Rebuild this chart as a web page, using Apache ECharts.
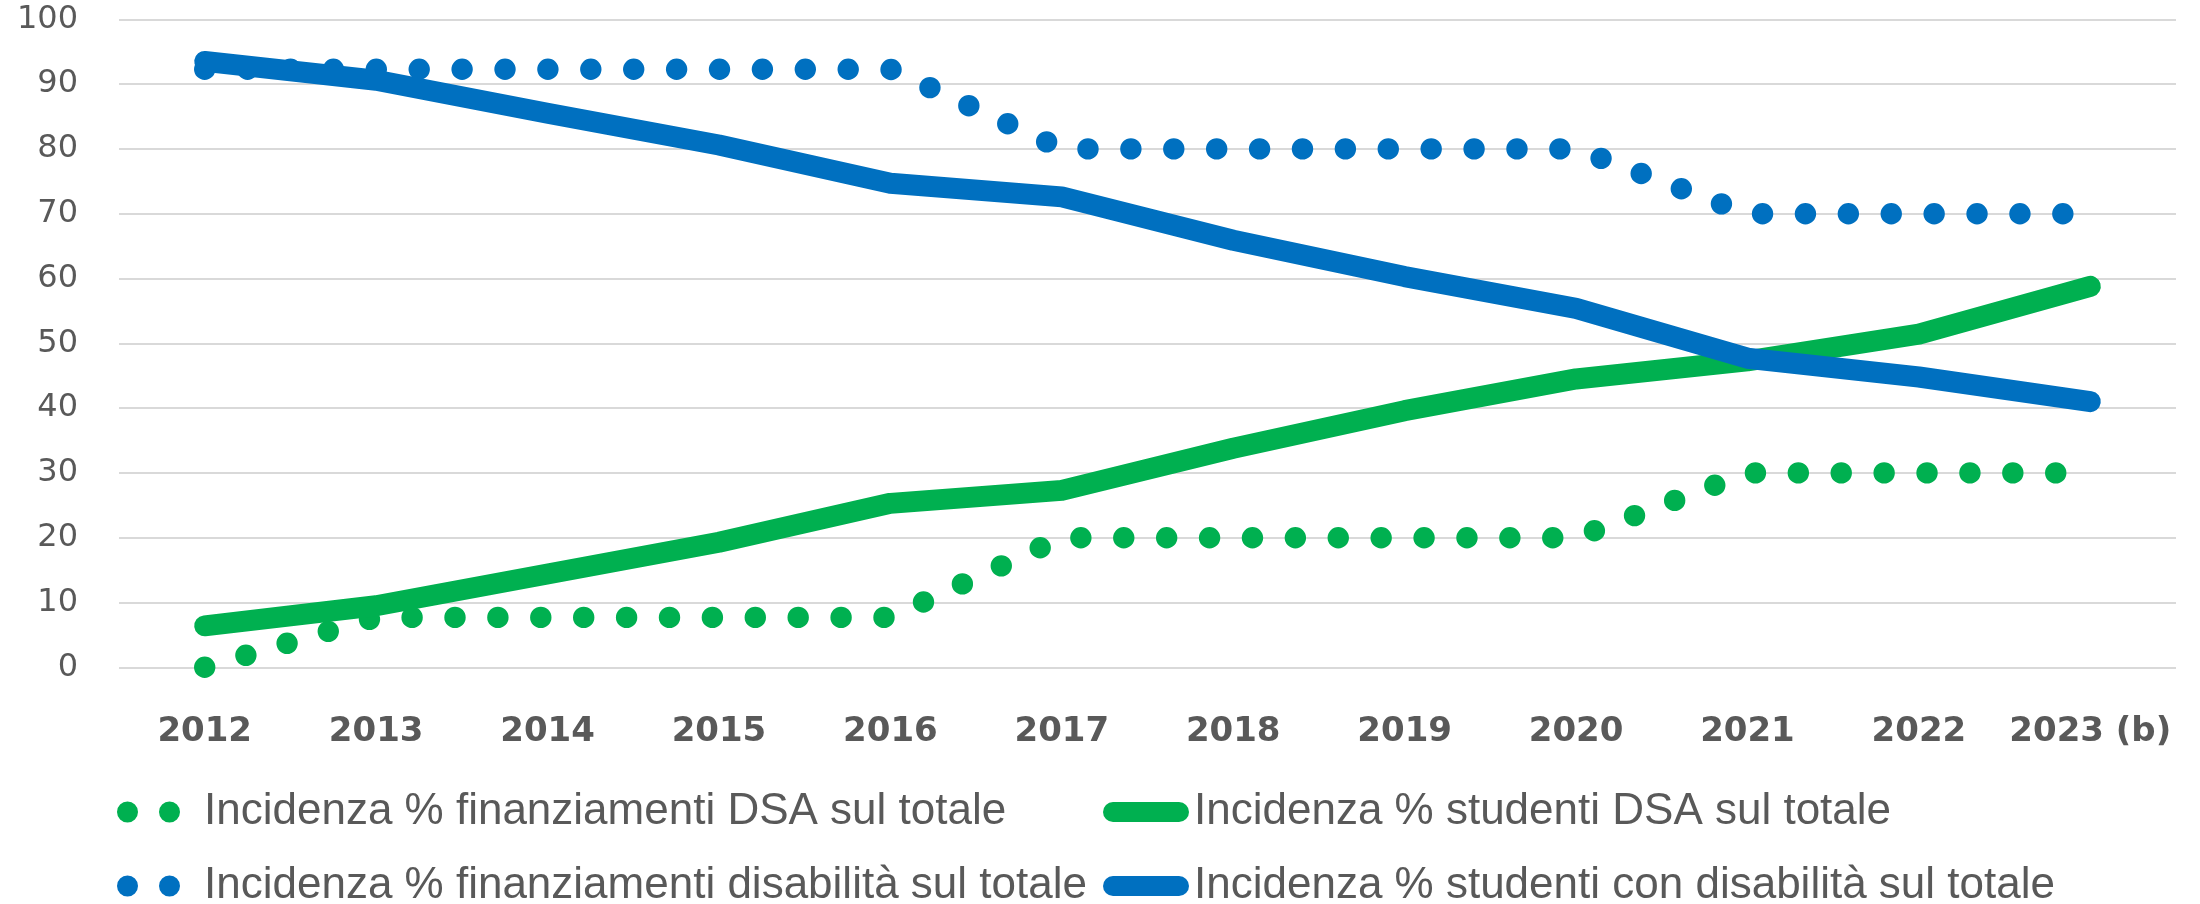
<!DOCTYPE html>
<html>
<head>
<meta charset="utf-8">
<script src="https://cdn.jsdelivr.net/npm/echarts@6/dist/echarts.min.js"></script>
<style>
  html, body { margin: 0; padding: 0; background: #ffffff; }
  #chart { width: 2200px; height: 904px; }
</style>
</head>
<body>
<div id="chart"></div>
<script>
// ---- Data ----
const categories = ['2012', '2013', '2014', '2015', '2016', '2017', '2018', '2019', '2020', '2021', '2022', '2023 (b)'];
const yTicks = [0, 10, 20, 30, 40, 50, 60, 70, 80, 90, 100];

const nameFinDSA = 'Incidenza % finanziamenti DSA sul totale';
const nameStudDSA = 'Incidenza % studenti DSA sul totale';
const nameFinDis = 'Incidenza % finanziamenti disabilità sul totale';
const nameStudDis = 'Incidenza % studenti con disabilità sul totale';

const finDSA  = [0, 7.7, 7.7, 7.7, 7.7, 20, 20, 20, 20, 30, 30, 30];
const finDis  = [92.3, 92.3, 92.3, 92.3, 92.3, 80, 80, 80, 80, 70, 70, 70];
const studDSA = [6.4, 9.5, 14.4, 19.3, 25.3, 27.3, 33.8, 39.6, 44.5, 47.3, 51.4, 58.8];
const studDis = [93.5, 90.6, 85.5, 80.6, 74.7, 72.6, 65.9, 60.3, 55.4, 47.7, 44.8, 41.0];

// ---- Styles ----
const GREEN = '#00B050';
const BLUE = '#0070C0';
const TEXT = '#595959';
const W = 21.4;

const dotIcon = 'path://M0,10.5A10.5,10.5,0,1,1,21,10.5A10.5,10.5,0,1,1,0,10.5ZM42,10.5A10.5,10.5,0,1,1,63,10.5A10.5,10.5,0,1,1,42,10.5Z';
const capIcon = 'path://M10,0L76,0A10,10,0,0,1,76,20L10,20A10,10,0,0,1,10,0Z';

function legend(name, icon, iw, ih, left, top, pad) {
  return {
    data: [name],
    left: left, top: top,
    orient: 'horizontal',
    icon: icon, itemWidth: iw, itemHeight: ih,
    itemStyle: { borderWidth: 0 },
    selectedMode: false,
    padding: 0,
    textStyle: { color: TEXT, fontSize: 44, fontFamily: 'Liberation Sans', padding: [0, 0, 0, pad] }
  };
}

const chart = echarts.init(document.getElementById('chart'), null, { renderer: 'canvas' });
chart.setOption({
  animation: false,
  backgroundColor: '#ffffff',
  grid: { left: 119, right: 24, top: 19.3, bottom: 236.7, containLabel: false, outerBoundsMode: 'none' },
  xAxis: {
    type: 'category',
    data: categories,
    boundaryGap: true,
    axisLine: { show: false },
    axisTick: { show: false },
    axisLabel: { color: TEXT, fontSize: 34, fontWeight: 'bold', fontFamily: 'DejaVu Sans', margin: 48, interval: 0 }
  },
  yAxis: {
    type: 'value',
    min: yTicks[0], max: yTicks[yTicks.length - 1], interval: 10,
    axisLine: { show: false },
    axisTick: { show: false },
    axisLabel: { color: TEXT, fontSize: 32, fontFamily: 'DejaVu Sans', margin: 41 },
    splitLine: { lineStyle: { color: '#D9D9D9', width: 2 } }
  },
  legend: [
    legend(nameFinDSA, dotIcon, 63, 21, 117, 790, 19),
    legend(nameFinDis, dotIcon, 63, 21, 117, 864, 19),
    legend(nameStudDSA, capIcon, 86, 20, 1103, 790, 0),
    legend(nameStudDis, capIcon, 86, 20, 1103, 864, 0)
  ],
  series: [
    { name: nameFinDSA, type: 'line', data: finDSA, color: GREEN, showSymbol: false, symbol: 'none', z: 2,
      lineStyle: { color: GREEN, width: W, type: [0, 42.9], cap: 'round', join: 'round' } },
    { name: nameFinDis, type: 'line', data: finDis, color: BLUE, showSymbol: false, symbol: 'none', z: 2,
      lineStyle: { color: BLUE, width: W, type: [0, 42.9], cap: 'round', join: 'round' } },
    { name: nameStudDSA, type: 'line', data: studDSA, color: GREEN, showSymbol: false, symbol: 'none', z: 3,
      lineStyle: { color: GREEN, width: 21, cap: 'round', join: 'round' } },
    { name: nameStudDis, type: 'line', data: studDis, color: BLUE, showSymbol: false, symbol: 'none', z: 4,
      lineStyle: { color: BLUE, width: 21, cap: 'round', join: 'round' } }
  ]
});
</script>
</body>
</html>
